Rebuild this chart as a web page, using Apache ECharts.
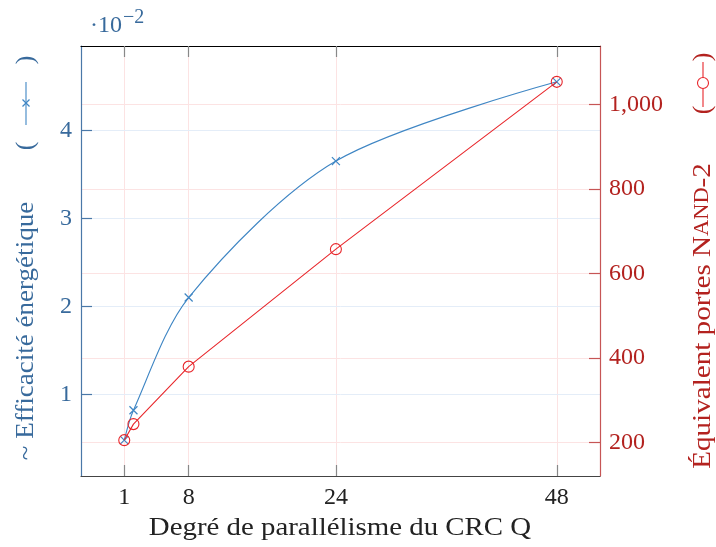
<!DOCTYPE html>
<html>
<head>
<meta charset="utf-8">
<script src="https://cdn.jsdelivr.net/npm/echarts@6/dist/echarts.min.js"></script>
<style>html,body{margin:0;padding:0;background:#fff;}#c{width:716px;height:547px;}</style>
</head>
<body>
<div id="c"></div>
<script>
// Data
const xValues = [1, 2, 8, 24, 48];
const efficiency = [0.48, 0.82, 2.1, 3.65, 4.55];   // x 10^-2
const nandGates = [206, 244, 380, 658, 1054];
const xTicks = [1, 8, 24, 48];
const effTicks = [1, 2, 3, 4];
const nandTicks = [200, 400, 600, 800, 1000];

const FONT = 'Liberation Serif';
const BLUE_LINE = '#3f86c4';
const BLUE_TEXT = '#386a9c';
const RED_LINE = '#e8262b';
const RED_TEXT = '#b3221f';
const PINK_GRID = '#fce3e3';
const BLUE_GRID = '#e4edf8';

const chart = echarts.init(document.getElementById('c'), null, {renderer: 'canvas'});

const gl = (color) => ({type: 'solid', width: 1, color: color});

const option = {
  animation: false,
  backgroundColor: '#fff',
  grid: {left: 81, right: 116, top: 46, bottom: 71, containLabel: false},
  xAxis: [{
    type: 'value', position: 'bottom', min: -3.7, max: 52.7, z: 6,
    axisLine: {show: true, onZero: false, lineStyle: {color: '#444', width: 1.2}},
    axisTick: {show: true, inside: true, length: 11, customValues: xTicks, lineStyle: {color: '#888', width: 1.2}},
    axisLabel: {show: true, customValues: xTicks, margin: 10, fontFamily: FONT, fontSize: 24, color: '#222'},
    splitLine: {show: false}
  }, {
    type: 'value', position: 'top', min: -3.7, max: 52.7, z: 6,
    axisLine: {show: true, onZero: false, lineStyle: {color: '#000', width: 1.2}},
    axisTick: {show: true, inside: true, length: 11, customValues: xTicks, lineStyle: {color: '#888', width: 1.2}},
    axisLabel: {show: false},
    splitLine: {show: false}
  }],
  yAxis: [{
    type: 'value', position: 'left', min: 0.073, max: 4.957, z: 6,
    axisLine: {show: true, onZero: false, lineStyle: {color: '#4a78a8', width: 1.2}},
    axisTick: {show: true, inside: true, length: 11, customValues: effTicks, lineStyle: {color: '#4a78a8', width: 1.2}},
    axisLabel: {show: true, customValues: effTicks, margin: 9, fontFamily: FONT, fontSize: 24, color: BLUE_TEXT},
    splitLine: {show: false}
  }, {
    type: 'value', position: 'right', min: 121.2, max: 1138.8, z: 6,
    axisLine: {show: true, onZero: false, lineStyle: {color: '#c65555', width: 1.2}},
    axisTick: {show: true, inside: true, length: 11, customValues: nandTicks, lineStyle: {color: '#c65555', width: 1.2}},
    axisLabel: {show: true, customValues: nandTicks, margin: 9, fontFamily: FONT, fontSize: 24, color: RED_TEXT,
      formatter: (v) => Number(v).toLocaleString('en-US')},
    splitLine: {show: false}
  }],
  series: [{
    name: 'eff', type: 'line', xAxisIndex: 0, yAxisIndex: 0, z: 3,
    data: xValues.map((x, i) => [x, efficiency[i]]),
    smooth: 0.3,
    symbol: 'path://M0,0L10,10M10,0L0,10', symbolSize: 8,
    itemStyle: {color: BLUE_LINE, borderColor: BLUE_LINE, borderWidth: 1.2},
    lineStyle: {color: BLUE_LINE, width: 1.1},
    emphasis: {disabled: true},
    markLine: {
      silent: true, symbol: ['none', 'none'], label: {show: false}, z: 1, animation: false,
      emphasis: {disabled: true},
      data: xTicks.map(v => ({xAxis: v, lineStyle: gl(PINK_GRID)}))
        .concat(effTicks.map(v => ({yAxis: v, lineStyle: gl(BLUE_GRID)})))
    }
  }, {
    name: 'nand', type: 'line', xAxisIndex: 0, yAxisIndex: 1, z: 4,
    data: xValues.map((x, i) => [x, nandGates[i]]),
    symbol: 'circle', symbolSize: 11,
    itemStyle: {color: 'rgba(0,0,0,0)', borderColor: RED_LINE, borderWidth: 1.1},
    lineStyle: {color: RED_LINE, width: 1.1},
    emphasis: {disabled: true},
    markLine: {
      silent: true, symbol: ['none', 'none'], label: {show: false}, z: 1, animation: false,
      emphasis: {disabled: true},
      data: nandTicks.map(v => ({yAxis: v, lineStyle: gl(PINK_GRID)}))
    }
  }],
  graphic: [
    // exponent
    {type: 'text', x: 90, y: 26, style: {text: '·10', fontFamily: FONT, fontSize: 24, fill: BLUE_TEXT, align: 'left', verticalAlign: 'middle'}},
    {type: 'text', x: 123, y: 18, style: {text: '−2', fontFamily: FONT, fontSize: 20, fill: BLUE_TEXT, align: 'left', verticalAlign: 'middle'}},
    // x axis name
    {type: 'text', x: 340, y: 528, scaleX: 1.11, style: {text: 'Degré de parallélisme du CRC Q', fontFamily: FONT, fontSize: 26,
      fill: '#222', align: 'center', verticalAlign: 'middle'}},
    // left axis name
    {type: 'text', x: 26, y: 331, rotation: Math.PI / 2, scaleX: 1.04, style: {text: '~ Efficacité énergétique', fontFamily: FONT, fontSize: 26,
      fill: BLUE_TEXT, align: 'center', verticalAlign: 'middle'}},
    {type: 'text', x: 26, y: 146, rotation: Math.PI / 2, style: {text: '(', fontFamily: FONT, fontSize: 26, fill: BLUE_TEXT, align: 'center', verticalAlign: 'middle'}},
    {type: 'text', x: 26, y: 60, rotation: Math.PI / 2, style: {text: ')', fontFamily: FONT, fontSize: 26, fill: BLUE_TEXT, align: 'center', verticalAlign: 'middle'}},
    {type: 'line', shape: {x1: 26, y1: 82, x2: 26, y2: 125}, style: {stroke: BLUE_LINE, lineWidth: 1.1}},
    {type: 'polyline', shape: {points: [[22.5, 99.5], [29.5, 106.5]]}, style: {stroke: BLUE_LINE, lineWidth: 1.2, fill: null}},
    {type: 'polyline', shape: {points: [[29.5, 99.5], [22.5, 106.5]]}, style: {stroke: BLUE_LINE, lineWidth: 1.2, fill: null}},
    // right axis name
    {type: 'text', x: 703, y: 316, rotation: Math.PI / 2, scaleX: 1.12, style: {text: '{n|Équivalent portes N}{s|AND}{n|-2}', rich: {
      n: {fontFamily: FONT, fontSize: 26, fill: RED_TEXT},
      s: {fontFamily: FONT, fontSize: 20, fill: RED_TEXT}
    }, align: 'center', verticalAlign: 'middle'}},
    {type: 'text', x: 703, y: 110, rotation: Math.PI / 2, style: {text: '(', fontFamily: FONT, fontSize: 26, fill: RED_TEXT, align: 'center', verticalAlign: 'middle'}},
    {type: 'text', x: 703, y: 57, rotation: Math.PI / 2, style: {text: ')', fontFamily: FONT, fontSize: 26, fill: RED_TEXT, align: 'center', verticalAlign: 'middle'}},
    {type: 'line', shape: {x1: 703, y1: 62, x2: 703, y2: 107}, style: {stroke: RED_LINE, lineWidth: 1.1}},
    {type: 'circle', shape: {cx: 703, cy: 83, r: 5.5}, style: {stroke: RED_LINE, lineWidth: 1.1, fill: '#fff'}}
  ]
};
chart.setOption(option);
</script>
</body>
</html>
